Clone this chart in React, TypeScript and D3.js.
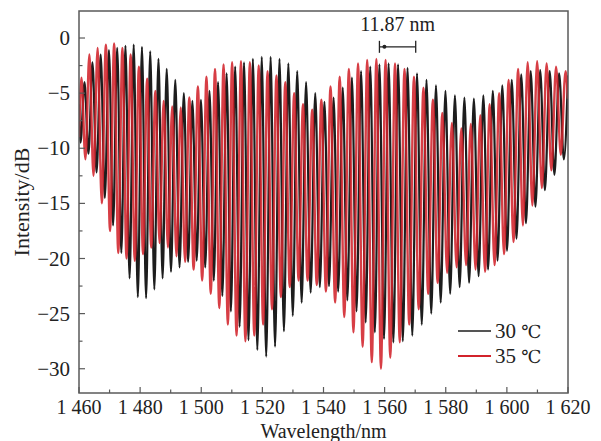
import React from "react";
import * as d3 from "d3";

// ---------- data ----------
// 30 °C spectrum: alternating fringe peaks / troughs
const wl30: number[] = [
  1460.0, 1460.5, 1461.8, 1463.1, 1464.4, 1465.75, 1467.1, 1468.45, 1469.8, 1471.15,
  1472.5, 1473.85, 1475.2, 1476.55, 1477.9, 1479.25, 1480.6, 1481.95, 1483.3, 1484.65,
  1486.0, 1487.35, 1488.7, 1490.1, 1491.5, 1492.9, 1494.3, 1495.7, 1497.1, 1498.5,
  1499.9, 1501.3, 1502.7, 1504.1, 1505.5, 1506.9, 1508.3, 1509.7, 1511.1, 1512.55,
  1514.0, 1515.45, 1516.9, 1518.35, 1519.8, 1521.25, 1522.7, 1524.15, 1525.6, 1527.05,
  1528.5, 1529.95, 1531.4, 1532.85, 1534.3, 1535.8, 1537.3, 1538.8, 1540.3, 1541.8,
  1543.3, 1544.8, 1546.3, 1547.8, 1549.3, 1550.8, 1552.3, 1553.8, 1555.3, 1556.8,
  1558.3, 1559.8, 1561.3, 1562.85, 1564.4, 1565.95, 1567.5, 1569.05, 1570.6, 1572.15,
  1573.7, 1575.25, 1576.8, 1578.35, 1579.9, 1581.45, 1583.0, 1584.55, 1586.1, 1587.65,
  1589.2, 1590.75, 1592.3, 1593.85, 1595.4, 1596.95, 1598.5, 1600.05, 1601.6, 1603.15,
  1604.7, 1606.25, 1607.8, 1609.35, 1610.9, 1612.45, 1614.0, 1615.55, 1617.1, 1618.65,
  1620.0,
];
const db30: number[] = [
  -6, -9.5, -4.0, -10.5, -2.2, -12.2, -1.5, -14.5, -1.1, -17,
  -0.9, -19.5, -0.7, -21.8, -0.6, -23.5, -0.8, -23.6, -1.2, -22.8,
  -1.9, -21.8, -2.8, -21.2, -3.8, -20.8, -5.0, -20.3, -5.7, -20.2,
  -5.6, -20.8, -4.8, -22, -4.0, -23.4, -3.2, -24.8, -2.6, -26.2,
  -2.2, -27.4, -1.9, -28.3, -1.7, -28.9, -1.7, -28, -1.9, -26.6,
  -2.3, -25.2, -3.0, -24, -4.0, -23.1, -5.0, -22.6, -5.8, -22.5,
  -5.4, -23, -4.5, -23.8, -3.6, -24.8, -3.0, -25.8, -2.6, -26.7,
  -2.4, -27.3, -2.3, -27.6, -2.4, -27.5, -2.7, -27, -3.2, -26,
  -3.8, -25, -4.3, -24, -4.8, -23.2, -5.2, -22.6, -5.4, -22.2,
  -5.5, -21.6, -5.2, -21, -4.8, -20.2, -4.3, -19.3, -3.8, -18.2,
  -3.3, -16.8, -3.0, -15.3, -2.9, -13.8, -3.0, -12.4, -3.2, -11,
  -3.4,
];

// 35 °C spectrum
const wl35: number[] = [
  1460.0, 1460.8, 1462.1, 1463.4, 1464.75, 1466.1, 1467.45, 1468.8, 1470.15, 1471.5,
  1472.85, 1474.2, 1475.55, 1476.9, 1478.25, 1479.6, 1480.95, 1482.3, 1483.65, 1485.0,
  1486.35, 1487.7, 1489.1, 1490.5, 1491.9, 1493.3, 1494.7, 1496.1, 1497.5, 1498.9,
  1500.3, 1501.7, 1503.1, 1504.5, 1505.9, 1507.3, 1508.7, 1510.1, 1511.55, 1513.0,
  1514.45, 1515.9, 1517.35, 1518.8, 1520.25, 1521.7, 1523.15, 1524.6, 1526.05, 1527.5,
  1528.95, 1530.4, 1531.85, 1533.3, 1534.8, 1536.3, 1537.8, 1539.3, 1540.8, 1542.3,
  1543.8, 1545.3, 1546.8, 1548.3, 1549.8, 1551.3, 1552.8, 1554.3, 1555.8, 1557.3,
  1558.8, 1560.3, 1561.85, 1563.4, 1564.95, 1566.5, 1568.05, 1569.6, 1571.15, 1572.7,
  1574.25, 1575.8, 1577.35, 1578.9, 1580.45, 1582.0, 1583.55, 1585.1, 1586.65, 1588.2,
  1589.75, 1591.3, 1592.85, 1594.4, 1595.95, 1597.5, 1599.05, 1600.6, 1602.15, 1603.7,
  1605.25, 1606.8, 1608.35, 1609.9, 1611.45, 1613.0, 1614.55, 1616.1, 1617.65, 1619.2,
  1620.0,
];
const db35: number[] = [
  -9, -3.6, -11, -1.5, -12.5, -0.9, -15, -0.6, -17.5, -0.5,
  -19.5, -0.9, -20, -1.5, -20.2, -2.6, -19.6, -3.7, -19, -4.8,
  -18.6, -5.7, -19, -6.2, -19.8, -6.3, -20.3, -5.4, -21, -4.4,
  -22, -3.5, -23.2, -2.8, -24.5, -2.4, -26, -2.2, -27, -2.1,
  -27.5, -2.2, -27, -2.5, -26, -3.0, -24.6, -3.4, -23.5, -4.0,
  -22.6, -5.0, -22, -6.0, -22, -6.5, -22.4, -5.6, -23, -4.4,
  -24, -3.5, -25.3, -2.8, -26.7, -2.3, -28, -2.0, -29.4, -1.9,
  -30, -2.0, -29, -2.3, -27.6, -2.8, -26, -3.5, -24.6, -4.5,
  -23.2, -5.6, -22.2, -6.8, -21.3, -7.7, -20.8, -8.2, -20.6, -7.8,
  -21, -7.0, -21.2, -6.0, -20.6, -5.0, -19.6, -3.8, -18.5, -2.8,
  -17, -2.2, -15.2, -2.1, -13.6, -2.3, -12, -2.6, -10.6, -3.0,
  -5.5,
];

const xTicksMajor = [1460, 1480, 1500, 1520, 1540, 1560, 1580, 1600, 1620];
const xTicksMinor = [1470, 1490, 1510, 1530, 1550, 1570, 1590, 1610];
const yTicksMajor = [0, -5, -10, -15, -20, -25, -30];
const yTicksMinor = [-2.5, -7.5, -12.5, -17.5, -22.5, -27.5];

const seriesTemps = ["30", "35"];
const unitSymbol = "℃";
const seriesColors = ["#1d1d1d", "#d2232b"];

// annotation: fringe spacing bracket
const annoStart = 1558.3;
const annoWidth = 11.87;
const annoLevel = -0.8;
const annoLabel = "11.87 nm";

// ---------- layout ----------
const W = 601;
const H = 441;
const L = 79;
const R = 568;
const T = 11;
const B = 393;
const FONT = "'Liberation Serif', 'Times New Roman', serif";

const locale = d3.formatLocale({
  decimal: ".",
  thousands: " ",
  grouping: [3],
  currency: ["", ""],
});
const fmtX = locale.format(",");
const fmtY = d3.format("d");

export default function App() {
  const x = d3.scaleLinear().domain([1460, 1620]).range([L, R]);
  const y = d3.scaleLinear().domain([-32.2, 2.45]).range([B, T]);

  const line = d3
    .line<[number, number]>()
    .x((d) => x(d[0]))
    .y((d) => y(d[1]))
    .curve(d3.curveMonotoneX);

  const p30 = line(wl30.map((w, i) => [w, db30[i]] as [number, number])) || "";
  const p35 = line(wl35.map((w, i) => [w, db35[i]] as [number, number])) || "";

  const ax1 = x(annoStart);
  const ax2 = x(annoStart + annoWidth);
  const ay = y(annoLevel);

  return (
    <svg
      width={W}
      height={H}
      viewBox={`0 0 ${W} ${H}`}
      style={{ position: "absolute", left: 0, top: 0, background: "#fff" }}
      fontFamily={FONT}
    >
      <defs>
        <clipPath id="plotClip">
          <rect x={L} y={T} width={R - L} height={B - T} />
        </clipPath>
      </defs>

      <g clipPath="url(#plotClip)" fill="none" strokeLinejoin="round">
        <path d={p30} stroke={seriesColors[0]} strokeWidth={2.2} />
        <path d={p35} stroke={seriesColors[1]} strokeWidth={2.4} strokeOpacity={0.88} />
      </g>

      {/* frame */}
      <rect x={L} y={T} width={R - L} height={B - T} fill="none" stroke="#5a5a5a" strokeWidth={1.5} />

      {/* x ticks */}
      {xTicksMajor.map((t) => (
        <g key={"xM" + t}>
          <line x1={x(t)} x2={x(t)} y1={B} y2={B - 6} stroke="#5a5a5a" strokeWidth={1.2} />
          <text x={x(t)} y={B + 21} fontSize={20} textAnchor="middle" fill="#222">
            {fmtX(t)}
          </text>
        </g>
      ))}
      {xTicksMinor.map((t) => (
        <line key={"xm" + t} x1={x(t)} x2={x(t)} y1={B} y2={B - 3.5} stroke="#5a5a5a" strokeWidth={1.2} />
      ))}

      {/* y ticks */}
      {yTicksMajor.map((t) => (
        <g key={"yM" + t}>
          <line x1={L} x2={L + 6} y1={y(t)} y2={y(t)} stroke="#5a5a5a" strokeWidth={1.2} />
          <text x={L - 9} y={y(t) + 7} fontSize={21} textAnchor="end" fill="#222">
            {fmtY(t)}
          </text>
        </g>
      ))}
      {yTicksMinor.map((t) => (
        <line key={"ym" + t} x1={L} x2={L + 3.5} y1={y(t)} y2={y(t)} stroke="#5a5a5a" strokeWidth={1.2} />
      ))}

      {/* axis titles */}
      <text x={(L + R) / 2} y={438} fontSize={20} textAnchor="middle" fill="#222">
        Wavelength/nm
      </text>
      <text
        transform={`translate(29, ${(T + B) / 2}) rotate(-90)`}
        fontSize={22}
        textAnchor="middle"
        fill="#222"
      >
        Intensity/dB
      </text>

      {/* annotation */}
      <text x={(ax1 + ax2) / 2} y={ay - 16} fontSize={20} textAnchor="middle" fill="#222">
        {annoLabel}
      </text>
      <g stroke="#222" strokeWidth={1.3}>
        <line x1={ax1} x2={ax2} y1={ay} y2={ay} />
        <line x1={ax1} x2={ax1} y1={ay - 6} y2={ay + 6} />
        <line x1={ax2} x2={ax2} y1={ay - 6} y2={ay + 6} />
      </g>
      <circle cx={ax1 + 5} cy={ay} r={2} fill="#222" />

      {/* legend */}
      {seriesTemps.map((n, i) => (
        <g key={n}>
          <line
            x1={458}
            x2={491}
            y1={331 + i * 25}
            y2={331 + i * 25}
            stroke={seriesColors[i]}
            strokeWidth={i === 0 ? 1.5 : 2}
          />
          <text x={495} y={338 + i * 25} fontSize={21} fill="#222">
            {n + " "}
            <tspan fontFamily="'DejaVu Serif', 'Liberation Serif', serif" fontSize={18}>
              {unitSymbol}
            </tspan>
          </text>
        </g>
      ))}
    </svg>
  );
}
